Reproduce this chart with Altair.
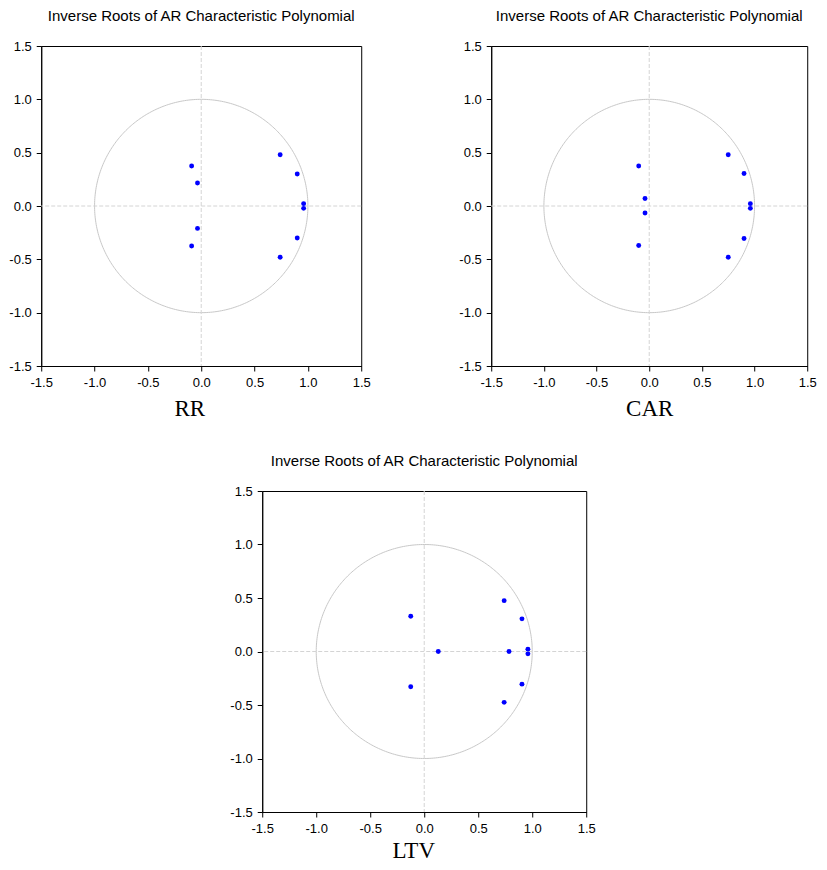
import altair as alt
import pandas as pd

TITLE = "Inverse Roots of AR Characteristic Polynomial"
TICKS = [-1.5, -1.0, -0.5, 0.0, 0.5, 1.0, 1.5]

rr_re = [0.74, 0.74, 0.90, 0.90, 0.96, 0.96, -0.09, -0.09, -0.035, -0.035]
rr_im = [0.48, -0.48, 0.30, -0.30, 0.022, -0.022, 0.375, -0.375, 0.215, -0.21]

car_re = [0.75, 0.75, 0.90, 0.90, 0.96, 0.96, -0.10, -0.10, -0.04, -0.04]
car_im = [0.48, -0.48, 0.305, -0.305, 0.022, -0.022, 0.375, -0.37, 0.07, -0.065]

ltv_re = [0.74, 0.74, 0.905, 0.905, 0.96, 0.96, -0.125, -0.125, 0.13, 0.785]
ltv_im = [0.475, -0.475, 0.305, -0.305, 0.022, -0.022, 0.33, -0.33, 0.0, 0.0]

LABEL_EXPR = "replace(format(datum.value, '.1f'), '\u2212', '-')"


def panel(re, im, name, w, h, title_x, title_y):
    df = pd.DataFrame({"re": re, "im": im})
    sx = alt.Scale(domain=[-1.5, 1.5], nice=False, zero=False)
    sy = alt.Scale(domain=[-1.5, 1.5], nice=False, zero=False)
    xaxis = alt.Axis(values=TICKS, labelExpr=LABEL_EXPR, grid=False, title=name,
                     titleFont="Liberation Serif", titleFontSize=23,
                     titleFontWeight="normal", titleColor="black",
                     titleX=title_x, titleY=title_y, titleBaseline="alphabetic",
                     titleAlign="center")
    yaxis = alt.Axis(values=TICKS, labelExpr=LABEL_EXPR, grid=False, title=None)

    circle = alt.Chart(alt.sequence(0, 361, 1, as_="deg")).transform_calculate(
        cx="cos(datum.deg * PI / 180)", cy="sin(datum.deg * PI / 180)"
    ).mark_line(color="#c8c8c8", strokeWidth=1).encode(
        x=alt.X("cx:Q", scale=sx, axis=xaxis),
        y=alt.Y("cy:Q", scale=sy, axis=yaxis),
        order="deg:Q",
    )
    origin = pd.DataFrame({"o": [0.0]})
    vline = alt.Chart(origin).mark_rule(color="#d4d4d4", strokeWidth=1,
                                        strokeDash=[4, 2]).encode(x="o:Q")
    hline = alt.Chart(origin).mark_rule(color="#d4d4d4", strokeWidth=1,
                                        strokeDash=[4, 2]).encode(y="o:Q")
    pts = alt.Chart(df).mark_circle(color="#0000ff", size=24, opacity=1).encode(
        x="re:Q", y="im:Q"
    )
    return alt.layer(circle, vline, hline, pts).properties(
        width=w, height=h,
        title=alt.TitleParams(TITLE, font="Liberation Sans", fontSize=15,
                              fontWeight="normal", color="black",
                              anchor="middle", offset=16),
    )


top = alt.hconcat(
    panel(rr_re, rr_im, "RR", 320, 320, 148, 49),
    panel(car_re, car_im, "CAR", 316, 320, 158, 49),
    spacing=130, bounds="flush",
)
bottom = panel(ltv_re, ltv_im, "LTV", 324, 321, 151, 45)

chart = alt.vconcat(top, bottom, spacing=32, center=True).properties(
    padding={"left": 0, "top": 0, "right": 0, "bottom": 0}
).configure_view(stroke="black", strokeWidth=1).configure_axis(
    domainColor="black", tickColor="black", tickSize=5, labelPadding=5,
    labelFont="Liberation Sans", labelFontSize=13, labelColor="black",
    labelFlush=False, labelOverlap=False,
)

chart.save("out.html", embed_options={"renderer": "svg", "actions": False})
